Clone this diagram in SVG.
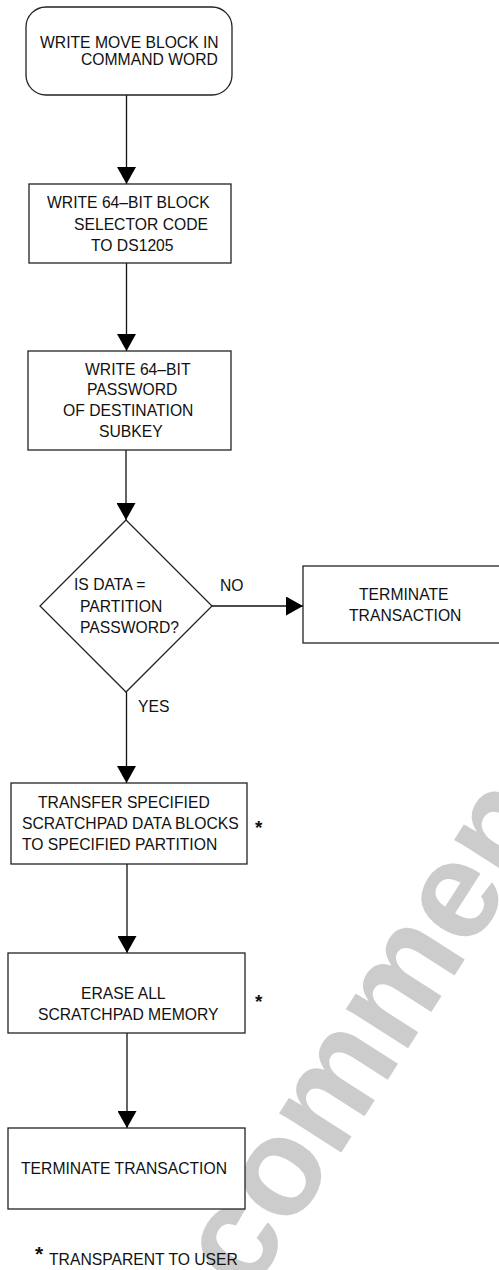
<svg xmlns="http://www.w3.org/2000/svg" width="499" height="1270" viewBox="0 0 499 1270">
<style>
.shape{fill:#ffffff;stroke:#222222;stroke-width:1.3}
.conn{fill:none;stroke:#111111;stroke-width:1.3}
text{font-family:"Liberation Sans",Arial,sans-serif;font-size:15.7px;fill:#111111}
.star{font-weight:bold;font-size:19px}
.wm{font-family:"Liberation Sans",Arial,sans-serif;font-weight:bold;font-size:139px;fill:#cccccc}
</style>
<defs>
<marker id="arrow" viewBox="0 0 17 19" refX="17" refY="9.5" markerWidth="17" markerHeight="19" markerUnits="userSpaceOnUse" orient="auto">
<path d="M0,0 L17,9.5 L0,19 Z" fill="#000000"/>
</marker>
</defs>
<rect width="499" height="1270" fill="#ffffff"/>
<g id="watermark">
<text class="wm" transform="translate(248.7,1297.3) rotate(-57.4)">commen</text>
</g>
<g id="connectors">
<line class="conn" x1="126.5" y1="95" x2="126.5" y2="184" marker-end="url(#arrow)"/>
<line class="conn" x1="126.5" y1="263" x2="126.5" y2="351" marker-end="url(#arrow)"/>
<line class="conn" x1="126" y1="450" x2="126" y2="520" marker-end="url(#arrow)"/>
<line class="conn" x1="212" y1="606" x2="303" y2="606" marker-end="url(#arrow)"/>
<line class="conn" x1="126.5" y1="692" x2="126.5" y2="783" marker-end="url(#arrow)"/>
<line class="conn" x1="127" y1="864" x2="127" y2="953" marker-end="url(#arrow)"/>
<line class="conn" x1="127" y1="1033" x2="127" y2="1128" marker-end="url(#arrow)"/>
<text x="220" y="591">NO</text>
<text x="138" y="712">YES</text>
</g>
<g id="start">
<rect class="shape" x="26" y="7" width="206" height="88" rx="20" ry="20"/>
<text x="40" y="48">WRITE MOVE BLOCK IN</text>
<text x="81" y="65">COMMAND WORD</text>
</g>
<g id="selector">
<rect class="shape" x="29" y="184" width="202" height="79"/>
<text x="47" y="208">WRITE 64–BIT BLOCK</text>
<text x="74" y="230">SELECTOR CODE</text>
<text x="91" y="251">TO DS1205</text>
</g>
<g id="password">
<rect class="shape" x="28" y="351" width="203" height="99"/>
<text x="85" y="375">WRITE 64–BIT</text>
<text x="87" y="395">PASSWORD</text>
<text x="63" y="416">OF DESTINATION</text>
<text x="99" y="437">SUBKEY</text>
</g>
<g id="decision">
<polygon class="shape" points="126,520 212,606 126,692 40,606"/>
<text x="74" y="590">IS DATA =</text>
<text x="80" y="612">PARTITION</text>
<text x="80" y="633">PASSWORD?</text>
</g>
<g id="terminate1">
<rect class="shape" x="303" y="566" width="210" height="77"/>
<text x="359" y="600">TERMINATE</text>
<text x="349" y="621">TRANSACTION</text>
</g>
<g id="transfer">
<rect class="shape" x="11" y="783" width="236" height="81"/>
<text x="38" y="808">TRANSFER SPECIFIED</text>
<text x="22" y="829">SCRATCHPAD DATA BLOCKS</text>
<text x="22" y="850">TO SPECIFIED PARTITION</text>
<text class="star" x="255" y="834">*</text>
</g>
<g id="erase">
<rect class="shape" x="8" y="953" width="237" height="80"/>
<text x="81" y="999">ERASE ALL</text>
<text x="38" y="1020">SCRATCHPAD MEMORY</text>
<text class="star" x="255" y="1008">*</text>
</g>
<g id="terminate2">
<rect class="shape" x="8" y="1128" width="237" height="81"/>
<text x="21" y="1174">TERMINATE TRANSACTION</text>
</g>
<g id="footnote">
<text class="star" x="35" y="1261" style="font-size:21px">*</text>
<text x="49" y="1265">TRANSPARENT TO USER</text>
</g>
</svg>
